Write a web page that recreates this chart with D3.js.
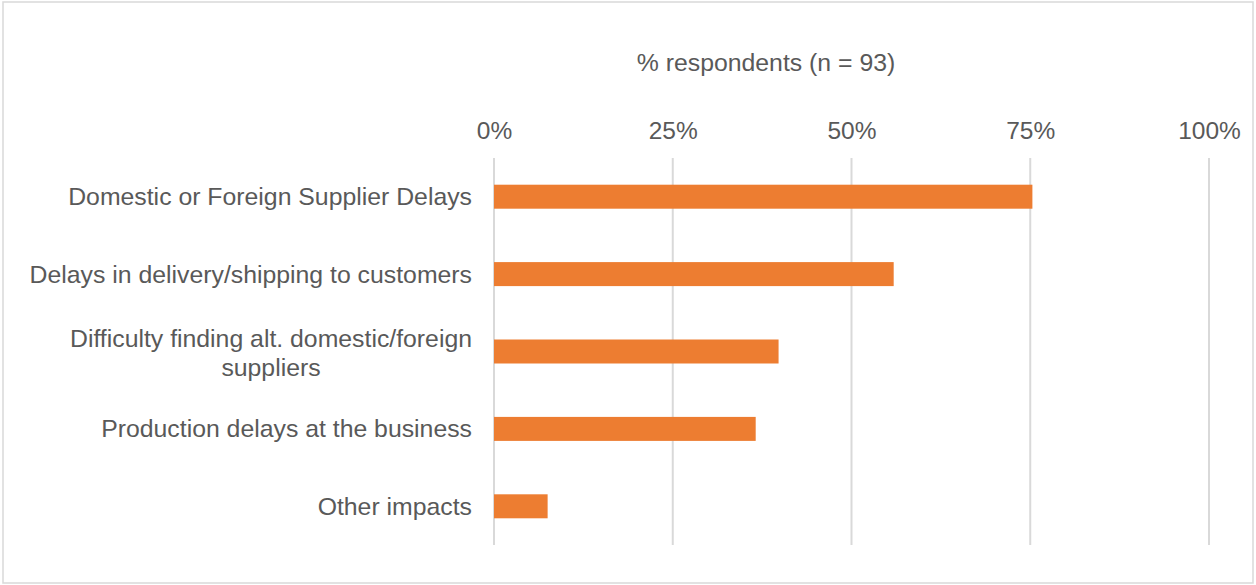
<!DOCTYPE html>
<html><head><meta charset="utf-8">
<script src="https://cdn.jsdelivr.net/npm/d3@7"></script>
<style>body{margin:0;background:#fff;}svg{display:block;}</style>
</head><body>
<svg id="chart" width="1256" height="585"></svg>
<script>
const categories = [
  ["Domestic or Foreign Supplier Delays"],
  ["Delays in delivery/shipping to customers"],
  ["Difficulty finding alt. domestic/foreign", "suppliers"],
  ["Production delays at the business"],
  ["Other impacts"]
];
const values = [0.753, 0.559, 0.398, 0.366, 0.075];
const tickValues = [0, 0.25, 0.5, 0.75, 1];
const axisTitle = "% respondents (n = 93)";

const svg = d3.select("#chart");
const font = "'Liberation Sans', Arial, sans-serif";
const fs = 24.8;
const textColor = "#595959";
svg.append("rect").attr("x", 3).attr("y", 2).attr("width", 1250).attr("height", 581)
  .attr("fill", "#fff").attr("stroke", "#d9d9d9").attr("stroke-width", 1.5);

const pLeft = 494, pRight = 1209, pTop = 158, pBottom = 545;
const x = d3.scaleLinear().domain([0, 1]).range([pLeft, pRight]);
const y = d3.scaleBand().domain(d3.range(categories.length)).range([pTop, pBottom]).paddingInner(0.69).paddingOuter(0.345);

const g = svg.append("g");
g.selectAll("line.grid").data(tickValues).join("line").attr("class", "grid")
  .attr("x1", d => x(d)).attr("x2", d => x(d)).attr("y1", pTop).attr("y2", pBottom)
  .attr("stroke", "#d9d9d9").attr("stroke-width", 2);

const axis = d3.axisTop(x).tickValues(tickValues).tickFormat(d3.format(".0%")).tickSize(0).tickPadding(0);
const ag = svg.append("g").attr("transform", `translate(0,${139})`).call(axis);
ag.select(".domain").remove();
ag.selectAll("text").attr("font-family", font).attr("font-size", 24.5).attr("fill", textColor).attr("dy", 0);

g.selectAll("rect.bar").data(values).join("rect").attr("class", "bar")
  .attr("x", x(0)).attr("y", (d, i) => y(i)).attr("width", d => x(d) - x(0)).attr("height", y.bandwidth())
  .attr("fill", "#ed7d31");

const lab = svg.append("g");
categories.forEach((lines, i) => {
  const cy = y(i) + y.bandwidth() / 2;
  const t = lab.append("text").attr("font-family", font).attr("font-size", fs).attr("fill", textColor);
  if (lines.length === 1) {
    t.attr("x", 472).attr("y", cy + 8.5).attr("text-anchor", "end").text(lines[0]);
  } else {
    const t1 = t.attr("x", 472).attr("y", cy - 4.5).attr("text-anchor", "end").text(lines[0]);
    const w = t1.node().getComputedTextLength();
    lab.append("text").attr("font-family", font).attr("font-size", fs).attr("fill", textColor)
      .attr("x", 472 - w / 2).attr("y", cy + 24.5).attr("text-anchor", "middle").text(lines[1]);
  }
});

svg.append("text").attr("x", 766).attr("y", 71).attr("text-anchor", "middle")
  .attr("font-family", font).attr("font-size", fs).attr("fill", textColor).text(axisTitle);
</script>
</body></html>
